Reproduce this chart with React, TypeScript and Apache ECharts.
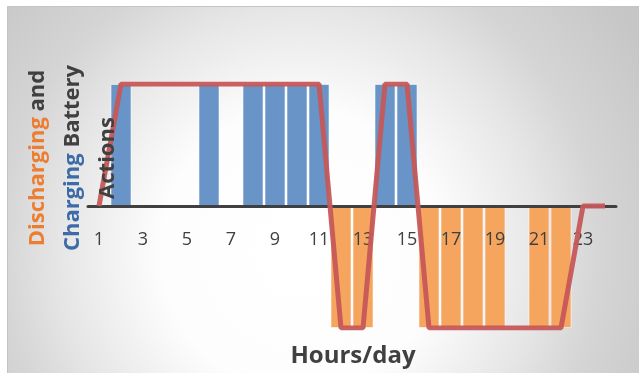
import React, { useEffect, useRef } from "react";
import * as echarts from "echarts";

// Hours of the day (1..24)
const hours: string[] = Array.from({ length: 24 }, (_, i) => String(i + 1));

// Battery charging hours (+1) per hour
const charging: number[] = [0, 1, 0, 0, 0, 1, 0, 1, 1, 1, 1, 0, 0, 1, 1, 0, 0, 0, 0, 0, 0, 0, 0, 0];

// Battery discharging hours (-1) per hour
const discharging: number[] = [0, 0, 0, 0, 0, 0, 0, 0, 0, 0, 0, -1, -1, 0, 0, -1, -1, -1, -1, 0, -1, -1, 0, 0];

// Battery action profile line
const action: number[] = [0, 1, 1, 1, 1, 1, 1, 1, 1, 1, 1, -1, -1, 1, 1, -1, -1, -1, -1, -1, -1, -1, 0, 0];

const FONT = "'Open Sans', 'Noto Sans', sans-serif";
const DARK = "#404040";

export default function App() {
  const ref = useRef<HTMLDivElement>(null);

  useEffect(() => {
    if (!ref.current) return;
    const chart = echarts.init(ref.current, undefined, { renderer: "svg" });

    const bg = new echarts.graphic.RadialGradient(
      300,
      250,
      400,
      [
        { offset: 0, color: "#ffffff" },
        { offset: 0.35, color: "#fdfdfd" },
        { offset: 0.6, color: "#e6e6e6" },
        { offset: 0.75, color: "#d5d5d5" },
        { offset: 1, color: "#c6c6c6" },
      ],
      true
    );

    const titleFont = `bold 22px ${FONT}`;

    chart.setOption({
      animation: false,
      graphic: [
        {
          type: "rect",
          z: -10,
          silent: true,
          shape: { x: 7.5, y: 6.5, width: 632, height: 367 },
          style: { fill: bg, stroke: "#c4c4c4", lineWidth: 1 },
        },
        {
          type: "text",
          z: 20,
          x: 353,
          y: 353,
          style: {
            text: "Hours/day",
            fill: DARK,
            font: `bold 24px ${FONT}`,
            align: "center",
            verticalAlign: "middle",
          },
        },
        {
          type: "text",
          z: 20,
          x: 70,
          y: 158,
          rotation: Math.PI / 2,
          style: {
            text: "{o|Discharging}{k| and}\n{b|Charging}{k| Battery}\n{k|Actions}",
            align: "center",
            verticalAlign: "middle",
            lineHeight: 35,
            rich: {
              o: { fill: "#ED7D31", font: titleFont, lineHeight: 35 },
              b: { fill: "#3D6BA8", font: titleFont, lineHeight: 35 },
              k: { fill: DARK, font: titleFont, lineHeight: 35 },
            },
          },
        },
      ],
      grid: { left: 88, right: 23, top: 84, bottom: 45, containLabel: false },
      xAxis: {
        type: "category",
        data: hours,
        z: 5,
        axisLine: { onZero: true, lineStyle: { color: DARK, width: 3 } },
        axisTick: { show: false },
        axisLabel: {
          interval: 1,
          margin: -99,
          color: DARK,
          fontSize: 18,
          fontFamily: FONT,
        },
        splitLine: { show: false },
      },
      yAxis: {
        type: "value",
        min: -1,
        max: 1,
        show: false,
        splitLine: { show: false },
      },
      series: [
        {
          name: "Charging",
          type: "bar",
          data: charging,
          barWidth: 21,
          barGap: "-100%",
          itemStyle: {
            color: "#6894C7",
            borderColor: "rgba(255,255,255,0.55)",
            borderWidth: 1,
          },
          z: 2,
        },
        {
          name: "Discharging",
          type: "bar",
          data: discharging,
          barWidth: 21,
          barGap: "-100%",
          itemStyle: {
            color: "#F5A55E",
            borderColor: "rgba(255,255,255,0.55)",
            borderWidth: 1,
          },
          z: 2,
        },
        {
          name: "Action",
          type: "line",
          data: action,
          symbol: "none",
          z: 10,
          lineStyle: { color: "#C65758", width: 5, opacity: 0.95 },
        },
      ],
    });

    return () => chart.dispose();
  }, []);

  return (
    <div
      ref={ref}
      style={{ position: "fixed", left: 0, top: 0, width: 639, height: 373 }}
    />
  );
}
